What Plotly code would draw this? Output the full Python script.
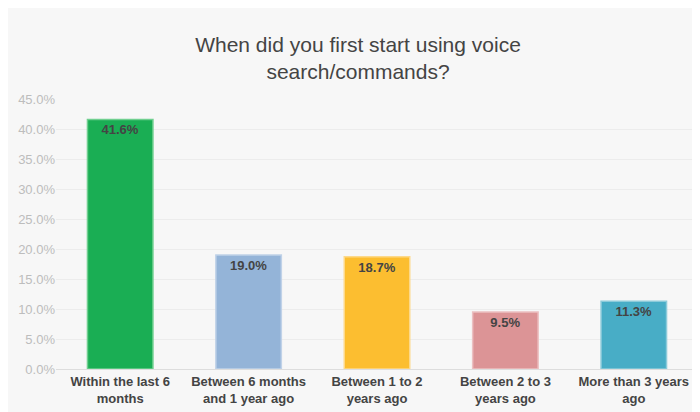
import plotly.graph_objects as go

categories = ["Within the last 6<br>months", "Between 6 months<br>and 1 year ago",
              "Between 1 to 2<br>years ago", "Between 2 to 3<br>years ago",
              "More than 3 years<br>ago"]
values = [41.6, 19.0, 18.7, 9.5, 11.3]
colors = ["#1aae54", "#94b4d8", "#fcbe30", "#dc9496", "#48adc6"]
outlines = ["#6fcf8f", "#c0d2e8", "#fdd98a", "#ecc0c1", "#8ccbda"]
labels = [f"{v:.1f}%" for v in values]

fig = go.Figure()
fig.add_trace(go.Bar(
    x=categories, y=values, width=0.51,
    marker=dict(color=colors, line=dict(color=outlines, width=1.5)),
    text=labels, textposition="inside", insidetextanchor="end",
    textfont=dict(family="Liberation Sans", size=13, color="#444444"),
    texttemplate="<b>%{text}</b>", textangle=0,
))
fig.update_layout(
    width=700, height=412,
    paper_bgcolor="#f7f7f7", plot_bgcolor="#f7f7f7",
    margin=dict(l=45, r=10, t=91, b=51),
    title=dict(text="When did you first start using voice<br>search/commands?",
               x=0.5, xanchor="center", y=1 - 44 / 412, yanchor="middle",
               font=dict(family="Liberation Sans", size=21, color="#444444")),
    showlegend=False, bargap=0.49,
    font=dict(family="Liberation Sans"),
)
fig.update_yaxes(range=[0, 45], dtick=5, ticksuffix="%", tickformat=".1f",
                 gridcolor="#ececec", zeroline=False,
                 tickfont=dict(size=13, color="#bdbdbd"))
fig.update_xaxes(showline=True, linecolor="#dddddd",
                 tickfont=dict(size=13, color="#444444"))
# bold category labels
fig.update_xaxes(tickvals=categories, ticktext=[f"<b>{c}</b>" for c in categories])
fig.write_html("out.html")
